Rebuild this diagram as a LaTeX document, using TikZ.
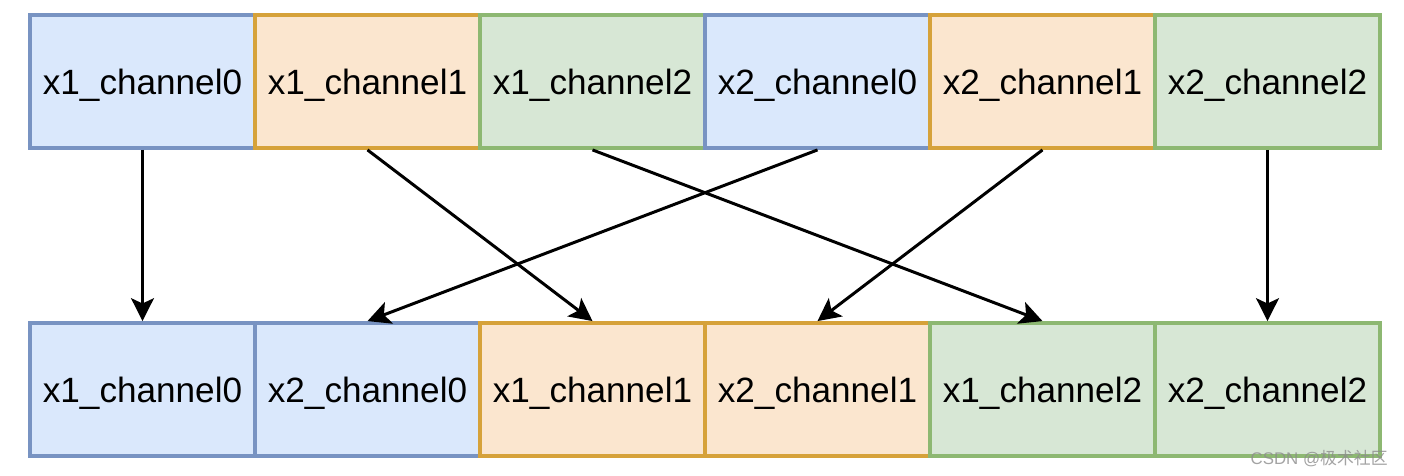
\documentclass[tikz,border=0pt]{standalone}
\usepackage{fontspec}
\setmainfont{Liberation Sans}
\newfontfamily\cjk{Noto Sans CJK SC}
\usetikzlibrary{arrows.meta}

\definecolor{bluefill}{HTML}{DAE8FC}
\definecolor{blueline}{HTML}{7893C2}
\definecolor{orangefill}{HTML}{FBE6CF}
\definecolor{orangeline}{HTML}{D6A23A}
\definecolor{greenfill}{HTML}{D7E7D5}
\definecolor{greenline}{HTML}{8DB872}

\tikzset{
  chan/.style={draw, line width=2.2pt, minimum width=4.5cm, minimum height=2.66cm,
    inner sep=0pt, text depth=0pt, font=\fontsize{20}{24}\selectfont},
  chblue/.style={chan, fill=bluefill, draw=blueline},
  chorange/.style={chan, fill=orangefill, draw=orangeline},
  chgreen/.style={chan, fill=greenfill, draw=greenline},
  arr/.style={line width=1.7pt, -{Stealth[length=13pt,width=13pt,inset=3pt]}}
}

\begin{document}
\begin{tikzpicture}[x=0.02cm,y=-0.02cm]
            \useasboundingbox (0,0) rectangle (1404,476);

            % top row
            \node[chblue]   (t0) at (142.5, 81.5) {x1\_channel0};
            \node[chorange] (t1) at (367.5, 81.5) {x1\_channel1};
            \node[chgreen]  (t2) at (592.5, 81.5) {x1\_channel2};
            \node[chblue]   (t3) at (817.5, 81.5) {x2\_channel0};
            \node[chorange] (t4) at (1042.5, 81.5) {x2\_channel1};
            \node[chgreen]  (t5) at (1267.5, 81.5) {x2\_channel2};

            % bottom row
            \node[chblue]   (b0) at (142.5, 389.5) {x1\_channel0};
            \node[chblue]   (b1) at (367.5, 389.5) {x2\_channel0};
            \node[chorange] (b2) at (592.5, 389.5) {x1\_channel1};
            \node[chorange] (b3) at (817.5, 389.5) {x2\_channel1};
            \node[chgreen]  (b4) at (1042.5, 389.5) {x1\_channel2};
            \node[chgreen]  (b5) at (1267.5, 389.5) {x2\_channel2};

            \draw[arr] (t0.south) -- (b0.north);
            \draw[arr] (t1.south) -- (b2.north);
            \draw[arr] (t2.south) -- (b4.north);
            \draw[arr] (t3.south) -- (b1.north);
            \draw[arr] (t4.south) -- (b3.north);
            \draw[arr] (t5.south) -- (b5.north);

            \node[anchor=east, text=black!45, opacity=0.8, inner sep=0pt,
              font=\fontsize{9.6}{11}\selectfont] (mark) at (1388, 459) {CSDN @{\cjk 极术社区}};
        \end{tikzpicture}
\end{document}
